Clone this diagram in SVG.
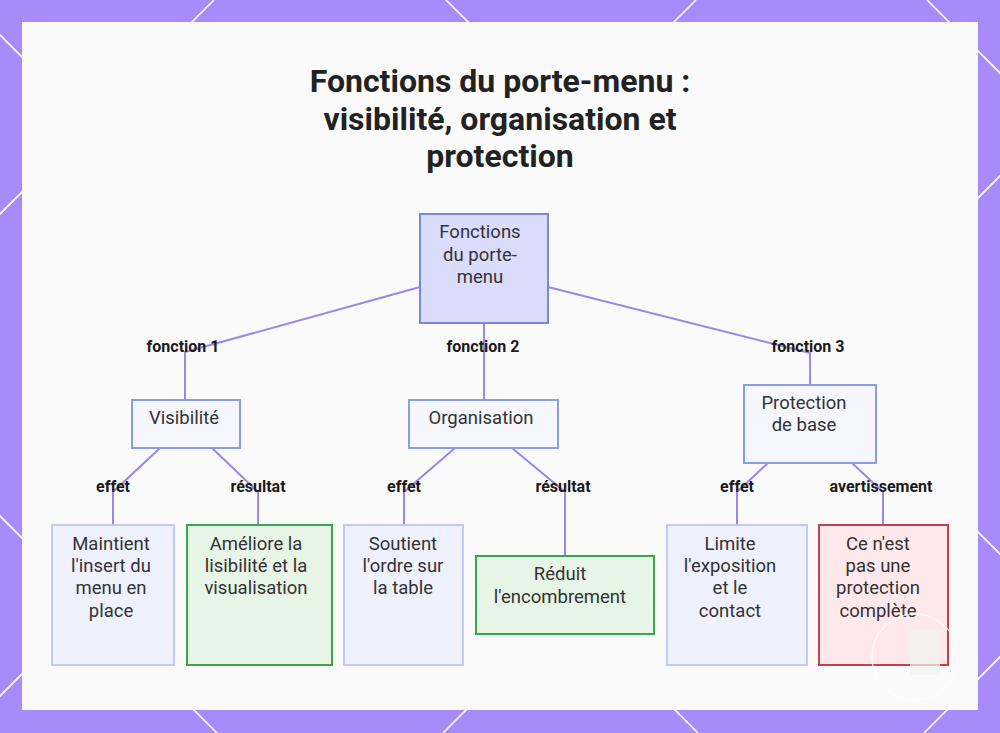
<svg xmlns="http://www.w3.org/2000/svg" width="1000" height="733" viewBox="0 0 1000 733">
<defs>
<style>
.bgl{stroke:#ffffff;stroke-width:1.6;fill:none}
.title{font-family:Roboto,"Liberation Sans",sans-serif;font-weight:700;font-size:32px;fill:#222;text-anchor:middle}
.nt{font-family:Roboto,"Liberation Sans",sans-serif;font-size:18.5px;fill:#333;text-anchor:middle}
.lbl{font-family:Roboto,"Liberation Sans",sans-serif;font-weight:700;font-size:16px;fill:#1a1a1a;text-anchor:middle}
.edge{stroke:#9d86e6;stroke-width:2;fill:none}
.main{fill:#d9dcfb;stroke:#7c87d6;stroke-width:2}
.mid{fill:#f5f6fe;stroke:#8b9de2;stroke-width:2}
.leaf{fill:#eff1fe;stroke:#c3c9f6;stroke-width:2}
.good{fill:#e6f5e6;stroke:#3aa84a;stroke-width:2}
.warn{fill:#fde9ec;stroke:#c8404f;stroke-width:2}
</style>
</defs>
<rect x="0" y="0" width="1000" height="733" fill="#a78bfa"/>
<g id="bg-lines">
<line class="bgl" x1="214" y1="0" x2="-300" y2="514"/>
<line class="bgl" x1="696" y1="0" x2="-37" y2="733"/>
<line class="bgl" x1="1176" y1="0" x2="443" y2="733"/>
<line class="bgl" x1="1657" y1="0" x2="924" y2="733"/>
<line class="bgl" x1="-516" y1="0" x2="217" y2="733"/>
<line class="bgl" x1="-35" y1="0" x2="698" y2="733"/>
<line class="bgl" x1="446" y1="0" x2="1179" y2="733"/>
<line class="bgl" x1="927" y1="0" x2="1660" y2="733"/>
</g>
<rect x="22" y="22" width="956" height="688" fill="#fafafa"/>
<g id="title">
<text class="title" x="500" y="92">Fonctions du porte-menu :</text>
<text class="title" x="500" y="130">visibilité, organisation et</text>
<text class="title" x="500" y="167">protection</text>
</g>
<g id="connectors">
<polyline class="edge" points="420,287 185,352 185,400"/>
<polyline class="edge" points="484,323 484,400"/>
<polyline class="edge" points="548,287 810,353 810,385"/>
<polyline class="edge" points="160,448 113,492 113,525"/>
<polyline class="edge" points="212,448 258,492 258,525"/>
<polyline class="edge" points="455,448 404,492 404,525"/>
<polyline class="edge" points="512,448 565,492 565,556"/>
<polyline class="edge" points="768,463 737,492 737,525"/>
<polyline class="edge" points="852,463 883,492 883,525"/>
<text class="lbl" x="183" y="352">fonction 1</text>
<text class="lbl" x="483" y="352">fonction 2</text>
<text class="lbl" x="808" y="352">fonction 3</text>
<text class="lbl" x="113" y="492">effet</text>
<text class="lbl" x="258" y="492">résultat</text>
<text class="lbl" x="404" y="492">effet</text>
<text class="lbl" x="563" y="492">résultat</text>
<text class="lbl" x="737" y="492">effet</text>
<text class="lbl" x="881" y="492">avertissement</text>
</g>
<g id="n-main">
<rect class="main" x="420" y="214" width="128" height="109"/>
<text class="nt" x="480" y="238">Fonctions</text>
<text class="nt" x="480" y="261">du porte-</text>
<text class="nt" x="480" y="283">menu</text>
</g>
<g id="n-visibilite">
<rect class="mid" x="132" y="400" width="108" height="48"/>
<text class="nt" x="184" y="424">Visibilité</text>
</g>
<g id="n-organisation">
<rect class="mid" x="409" y="400" width="149" height="48"/>
<text class="nt" x="481" y="424">Organisation</text>
</g>
<g id="n-protection">
<rect class="mid" x="744" y="385" width="132" height="78"/>
<text class="nt" x="804" y="409">Protection</text>
<text class="nt" x="804" y="431">de base</text>
</g>
<g id="n-maintient">
<rect class="leaf" x="52" y="525" width="122" height="140"/>
<text class="nt" x="111" y="550">Maintient</text>
<text class="nt" x="111" y="572">l'insert du</text>
<text class="nt" x="111" y="594">menu en</text>
<text class="nt" x="111" y="617">place</text>
</g>
<g id="n-ameliore">
<rect class="good" x="187" y="525" width="145" height="140"/>
<text class="nt" x="256" y="550">Améliore la</text>
<text class="nt" x="256" y="572">lisibilité et la</text>
<text class="nt" x="256" y="594">visualisation</text>
</g>
<g id="n-soutient">
<rect class="leaf" x="344" y="525" width="119" height="140"/>
<text class="nt" x="403" y="550">Soutient</text>
<text class="nt" x="403" y="572">l'ordre sur</text>
<text class="nt" x="403" y="594">la table</text>
</g>
<g id="n-reduit">
<rect class="good" x="476" y="556" width="178" height="78"/>
<text class="nt" x="560" y="580">Réduit</text>
<text class="nt" x="560" y="603">l'encombrement</text>
</g>
<g id="n-limite">
<rect class="leaf" x="667" y="525" width="140" height="140"/>
<text class="nt" x="730" y="550">Limite</text>
<text class="nt" x="730" y="572">l'exposition</text>
<text class="nt" x="730" y="594">et le</text>
<text class="nt" x="730" y="617">contact</text>
</g>
<g id="n-avertissement">
<rect class="warn" x="819" y="525" width="129" height="140"/>
<text class="nt" x="878" y="550">Ce n'est</text>
<text class="nt" x="878" y="572">pas une</text>
<text class="nt" x="878" y="594">protection</text>
<text class="nt" x="878" y="617">complète</text>
</g>
<g id="overlay" opacity="0.7">
<circle cx="915" cy="657" r="43" fill="none" stroke="#ffffff" stroke-width="1.5"/>
<rect x="910" y="630" width="30" height="45" fill="#f3f3f3"/>
</g>
</svg>
